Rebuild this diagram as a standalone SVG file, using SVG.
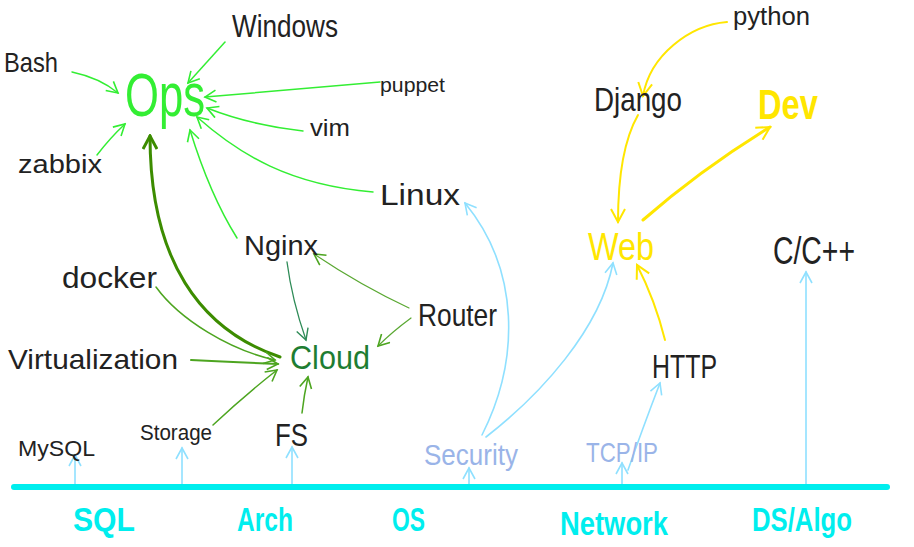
<svg xmlns="http://www.w3.org/2000/svg" width="914" height="547" viewBox="0 0 914 547">
<style>
text{font-family:"Liberation Sans","DejaVu Sans",sans-serif;fill:#222}
.c{fill:none;stroke-linecap:round;stroke-linejoin:round}
.g{stroke:#33ee33;stroke-width:1.5}
.dg{stroke:#3c8c00;stroke-width:3}
.mg{stroke:#4da520;stroke-width:1.5}
.sg{stroke:#2e8b57;stroke-width:1.3}
.b{stroke:#8fe0ff;stroke-width:1.6}
.y{stroke:#ffe600;stroke-width:2}
.axis{stroke:#00eeee;stroke-width:6}
.cy{fill:#00eeee}
</style>
<defs>
<marker id="ag" markerUnits="userSpaceOnUse" markerWidth="14" markerHeight="14" refX="12" refY="7" orient="auto"><path d="M1,1 L12,7 L1,13" fill="none" stroke="#33ee33" stroke-width="1.6"/></marker>
<marker id="adg" markerUnits="userSpaceOnUse" markerWidth="16" markerHeight="16" refX="14" refY="8" orient="auto"><path d="M1,1 L14,8 L1,15" fill="none" stroke="#3c8c00" stroke-width="3"/></marker>
<marker id="amg" markerUnits="userSpaceOnUse" markerWidth="14" markerHeight="14" refX="12" refY="7" orient="auto"><path d="M1,1 L12,7 L1,13" fill="none" stroke="#4da520" stroke-width="1.6"/></marker>
<marker id="asg" markerUnits="userSpaceOnUse" markerWidth="14" markerHeight="14" refX="12" refY="7" orient="auto"><path d="M1,1 L12,7 L1,13" fill="none" stroke="#2e8b57" stroke-width="1.4"/></marker>
<marker id="ab" markerUnits="userSpaceOnUse" markerWidth="14" markerHeight="14" refX="12" refY="7" orient="auto"><path d="M1,1 L12,7 L1,13" fill="none" stroke="#8fe0ff" stroke-width="1.6"/></marker>
<marker id="ay" markerUnits="userSpaceOnUse" markerWidth="16" markerHeight="16" refX="14" refY="8" orient="auto"><path d="M1,1 L14,8 L1,15" fill="none" stroke="#ffe600" stroke-width="2"/></marker>
</defs>
<rect width="914" height="547" fill="#fff"/>

<g id="connectors">
<path class="c g" d="M72,72 Q100,78 118,93" marker-end="url(#ag)"/>
<path class="c g" d="M225,42 L188,83" marker-end="url(#ag)"/>
<path class="c g" d="M97,155 Q110,138 125,124" marker-end="url(#ag)"/>
<path class="c g" d="M380,82 L205,97" marker-end="url(#ag)"/>
<path class="c g" d="M303,131 Q250,125 207,108" marker-end="url(#ag)"/>
<path class="c g" d="M373,192 C290,185 240,155 197,117" marker-end="url(#ag)"/>
<path class="c g" d="M237,238 Q210,195 190,130" marker-end="url(#ag)"/>
<path class="c dg" d="M280,357 C200,330 150,260 150,136" marker-end="url(#adg)"/>
<path class="c mg" d="M156,287 C180,320 230,350 275,360" marker-end="url(#amg)"/>
<path class="c mg" d="M191,360 Q230,362 278,364" marker-end="url(#amg)" style="stroke-width:2"/>
<path class="c mg" d="M213,425 Q245,395 277,370" marker-end="url(#amg)"/>
<path class="c mg" d="M302,413 Q304,395 308,377" marker-end="url(#amg)"/>
<path class="c sg" d="M287,262 Q292,300 306,340" marker-end="url(#asg)"/>
<path class="c mg" d="M411,318 Q392,332 378,346" marker-end="url(#amg)" style="stroke:#5aa832;stroke-width:1.2"/>
<path class="c mg" d="M409,308 Q360,285 314,254" marker-end="url(#amg)" style="stroke:#5aa832;stroke-width:1.2"/>
<path class="c b" d="M482,435 C520,360 520,270 465,203" marker-end="url(#ab)"/>
<path class="c b" d="M486,437 C540,395 600,330 613,263" marker-end="url(#ab)"/>
<path class="c b" d="M628,470 Q642,430 660,383" marker-end="url(#ab)"/>
<path class="c b" d="M75,485 L75,455" marker-end="url(#ab)"/>
<path class="c b" d="M182,485 L182,448" marker-end="url(#ab)"/>
<path class="c b" d="M292,485 L292,447" marker-end="url(#ab)"/>
<path class="c b" d="M469,485 L469,468" marker-end="url(#ab)"/>
<path class="c b" d="M622,485 L622,463" marker-end="url(#ab)"/>
<path class="c b" d="M806,485 L806,272" marker-end="url(#ab)"/>
<path class="c y" d="M727,22 C690,25 650,55 643,96" marker-end="url(#ay)"/>
<path class="c y" d="M638,115 Q618,150 618,222" marker-end="url(#ay)"/>
<path class="c y" d="M643,220 Q700,170 770,127" marker-end="url(#ay)" style="stroke-width:3"/>
<path class="c y" d="M665,340 Q655,300 637,265" marker-end="url(#ay)"/>
<path class="c axis" d="M14,487 L887,487"/>
</g>

<g id="node-ops"><text x="125" y="116" font-size="62" style="fill:#33ee33" textLength="80" lengthAdjust="spacingAndGlyphs">Ops</text></g>
<g id="node-bash"><text x="4" y="72" font-size="28" textLength="54" lengthAdjust="spacingAndGlyphs">Bash</text></g>
<g id="node-windows"><text x="232" y="37" font-size="32" textLength="106" lengthAdjust="spacingAndGlyphs">Windows</text></g>
<g id="node-puppet"><text x="380" y="92" font-size="21" textLength="65" lengthAdjust="spacingAndGlyphs">puppet</text></g>
<g id="node-vim"><text x="310" y="136" font-size="24" textLength="40" lengthAdjust="spacingAndGlyphs">vim</text></g>
<g id="node-zabbix"><text x="18" y="173" font-size="25" textLength="84" lengthAdjust="spacingAndGlyphs">zabbix</text></g>
<g id="node-linux"><text x="380" y="205" font-size="30" textLength="80" lengthAdjust="spacingAndGlyphs">Linux</text></g>
<g id="node-nginx"><text x="244" y="255" font-size="28" textLength="74" lengthAdjust="spacingAndGlyphs">Nginx</text></g>
<g id="node-docker"><text x="62" y="288" font-size="30" textLength="95" lengthAdjust="spacingAndGlyphs">docker</text></g>
<g id="node-router"><text x="418" y="326" font-size="32" textLength="79" lengthAdjust="spacingAndGlyphs">Router</text></g>
<g id="node-virtualization"><text x="8" y="369" font-size="28" textLength="170" lengthAdjust="spacingAndGlyphs">Virtualization</text></g>
<g id="node-cloud"><text x="290" y="369" font-size="33" style="fill:#1e7d32" textLength="80" lengthAdjust="spacingAndGlyphs">Cloud</text></g>
<g id="node-mysql"><text x="18" y="456" font-size="22" textLength="77" lengthAdjust="spacingAndGlyphs">MySQL</text></g>
<g id="node-storage"><text x="140" y="440" font-size="22" textLength="72" lengthAdjust="spacingAndGlyphs">Storage</text></g>
<g id="node-fs"><text x="275" y="446" font-size="32" textLength="33" lengthAdjust="spacingAndGlyphs">FS</text></g>
<g id="node-security"><text x="424" y="465" font-size="30" style="fill:#9ab4e8" textLength="94" lengthAdjust="spacingAndGlyphs">Security</text></g>
<g id="node-tcpip"><text x="586" y="462" font-size="28" style="fill:#9ab4e8" textLength="72" lengthAdjust="spacingAndGlyphs">TCP/IP</text></g>
<g id="node-http"><text x="652" y="378" font-size="33" textLength="65" lengthAdjust="spacingAndGlyphs">HTTP</text></g>
<g id="node-web"><text x="588" y="260" font-size="38" style="fill:#ffe600" textLength="66" lengthAdjust="spacingAndGlyphs">Web</text></g>
<g id="node-django"><text x="594" y="111" font-size="34" textLength="88" lengthAdjust="spacingAndGlyphs">Django</text></g>
<g id="node-dev"><text x="758" y="119" font-size="42" font-weight="bold" style="fill:#ffe600" textLength="60" lengthAdjust="spacingAndGlyphs">Dev</text></g>
<g id="node-python"><text x="733" y="25" font-size="26" textLength="77" lengthAdjust="spacingAndGlyphs">python</text></g>
<g id="node-cpp"><text x="773" y="264" font-size="38" textLength="82" lengthAdjust="spacingAndGlyphs">C/C++</text></g>
<g id="node-sql"><text class="cy" x="73" y="531" font-size="34" font-weight="bold" textLength="62" lengthAdjust="spacingAndGlyphs">SQL</text></g>
<g id="node-arch"><text class="cy" x="237" y="531" font-size="34" font-weight="bold" textLength="56" lengthAdjust="spacingAndGlyphs">Arch</text></g>
<g id="node-os"><text class="cy" x="392" y="531" font-size="34" font-weight="bold" textLength="33" lengthAdjust="spacingAndGlyphs">OS</text></g>
<g id="node-network"><text class="cy" x="560" y="535" font-size="34" font-weight="bold" textLength="108" lengthAdjust="spacingAndGlyphs">Network</text></g>
<g id="node-dsalgo"><text class="cy" x="752" y="531" font-size="34" font-weight="bold" textLength="100" lengthAdjust="spacingAndGlyphs">DS/Algo</text></g>
</svg>
